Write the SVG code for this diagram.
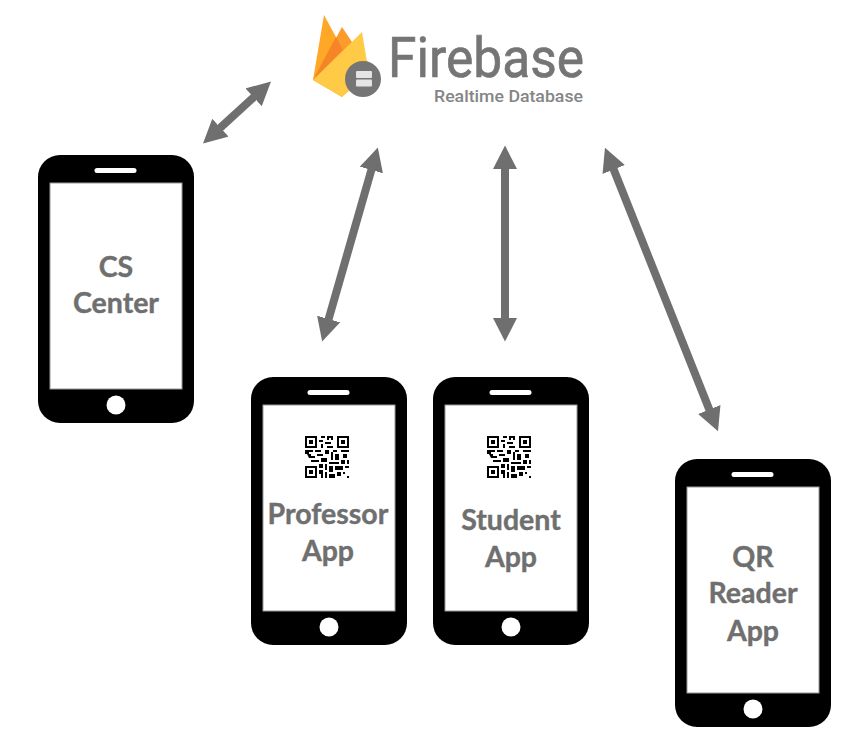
<svg xmlns="http://www.w3.org/2000/svg" width="864" height="756" viewBox="0 0 864 756">
<style>
.lbl{font-family:"Lato","Carlito","Liberation Sans",sans-serif;font-weight:700;font-size:28.500px;fill:#6f6f6f;stroke:#6f6f6f;stroke-width:0.400;text-anchor:middle}
.conn{stroke:#6f6f6f;stroke-width:8;fill:none;marker-start:url(#ah);marker-end:url(#ah)}
</style>
<defs>
<marker id="ah" markerUnits="userSpaceOnUse" markerWidth="24" markerHeight="24" refX="0.500" refY="12" orient="auto-start-reverse"><path d="M0 0L23.500 12L0 24Z" fill="#6f6f6f"/></marker>
<g id="phone">
<rect x="0.500" y="0" width="156" height="268" rx="22" fill="#000"/>
<rect x="12.500" y="28" width="132" height="206" fill="#fff" stroke="#999" stroke-width="1"/>
<rect x="57" y="13" width="42" height="5" rx="2.500" fill="#fff"/>
<circle cx="78.500" cy="250" r="9.500" fill="#fff"/>
</g>
<path id="qr" fill="#000" fill-rule="evenodd" d="M0 0h12v12h-12zM2 2v8h8v-8zM4 4h4v4h-4zM32 0h12v12h-12zM34 2v8h8v-8zM36 4h4v4h-4zM0 30h12v12h-12zM2 32v8h8v-8zM4 34h4v4h-4zM16 0h4v2h-4zM22 0h6v4h-2v-2h-2v2h-2zM14 4h4v2h-4zM20 6h6v2h-6zM16 8h2v4h-2zM22 10h6v2h-6zM0 14h8v2h-4v2h-4zM10 14h6v2h-6zM20 14h4v4h-4zM28 14h4v2h-4zM36 14h8v2h-8zM2 18h4v2h4v2h-6zM12 18h6v2h-6zM26 16h2v8h-2zM30 18h4v6h-4zM38 18h4v4h-4zM6 24h8v2h-8zM16 22h6v4h-6zM24 26h10v2h-10zM36 24h4v4h-4zM42 24h2v4h-2zM14 28h4v4h-4zM20 28h2v6h-2zM24 30h4v6h-4zM30 30h8v4h-8zM40 30h4v2h-4zM14 34h4v8h-2v-4h-2zM20 36h2v6h-2zM24 38h6v4h-6zM32 36h4v4h-4zM38 36h2v2h-2zM42 40h2v2h-2z"/>
</defs>
<g id="connectors">
<line class="conn" x1="220" y1="128" x2="254" y2="97"/>
<line class="conn" x1="328.500" y1="319.500" x2="371.500" y2="169.500"/>
<line class="conn" x1="505" y1="318.500" x2="505" y2="168.500"/>
<line class="conn" x1="709.500" y1="410" x2="613.500" y2="169"/>
</g>
<g id="firebase">
<path d="M313 80L324 15L343 50Z" fill="#FFA726"/>
<path d="M313 80L342 27L352 42L368 62L342 97Z" fill="#FB9B2B"/>
<path d="M336 37L343 50L313 80Z" fill="#F58526"/>
<path d="M313 80L362 32L369 74L342 97Z" fill="#FFCA45"/>
<circle cx="363" cy="79" r="18" fill="#757575"/>
<rect x="356" y="71" width="16" height="7" rx="1" fill="#e4e4e4"/>
<rect x="356" y="79.500" width="16" height="7" rx="1" fill="#e4e4e4"/>
<text x="388" y="77" font-family="Roboto,sans-serif" font-size="56" textLength="196" lengthAdjust="spacingAndGlyphs" fill="#757575" stroke="#757575" stroke-width="0.700">Firebase</text>
<text x="434" y="102" font-family="Roboto,sans-serif" font-weight="500" font-size="17" textLength="149" lengthAdjust="spacingAndGlyphs" fill="#858585">Realtime Database</text>
</g>
<g id="cs-center">
<use href="#phone" x="37.500" y="155"/>
<text class="lbl" x="116" y="277">CS</text>
<text class="lbl" x="116" y="313">Center</text>
</g>
<g id="professor-app">
<use href="#phone" x="250.500" y="377"/>
<use href="#qr" x="305" y="436"/>
<text class="lbl" x="328" y="524">Professor</text>
<text class="lbl" x="328" y="561">App</text>
</g>
<g id="student-app">
<use href="#phone" x="432.500" y="377"/>
<use href="#qr" x="487" y="436"/>
<text class="lbl" x="511" y="530">Student</text>
<text class="lbl" x="511" y="567">App</text>
</g>
<g id="qr-reader-app">
<use href="#phone" x="674.500" y="459"/>
<text class="lbl" x="753" y="567">QR</text>
<text class="lbl" x="753" y="603">Reader</text>
<text class="lbl" x="753" y="641">App</text>
</g>
</svg>
